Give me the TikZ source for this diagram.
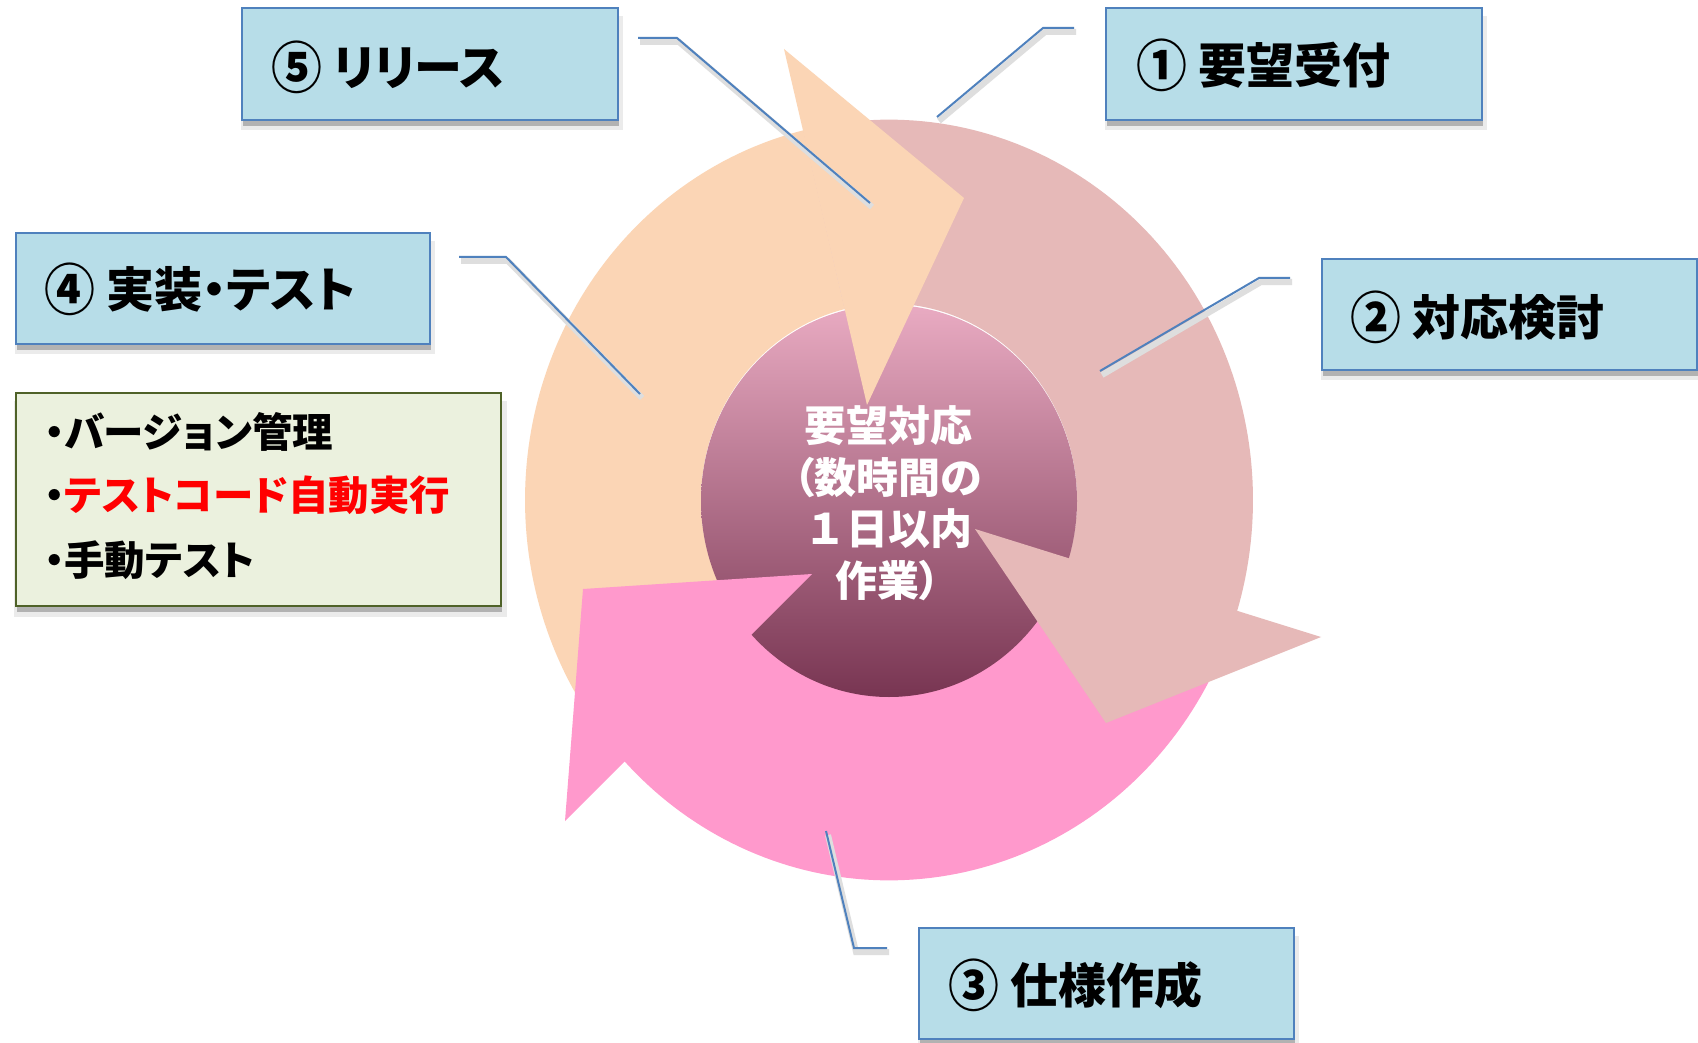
\documentclass[tikz,border=0pt]{standalone}
\usepackage{fontspec}
\newfontfamily\jp{Noto Sans CJK JP}[RawFeature=+palt]
\newfontfamily\jpf{Noto Sans CJK JP}
\usetikzlibrary{shadows}
\definecolor{peach}{HTML}{FBD5B5}
\definecolor{dusty}{HTML}{E6B9B8}
\definecolor{hotpink}{HTML}{FF99CC}
\definecolor{boxblue}{HTML}{B7DDE8}
\definecolor{edgeblue}{HTML}{4F81BD}
\definecolor{boxgreen}{HTML}{EBF1DE}
\definecolor{edgegreen}{HTML}{4F6228}
\definecolor{ctop}{HTML}{E9ABC2}
\definecolor{cmid}{HTML}{BF7690}
\definecolor{cbot}{HTML}{783552}
\newcommand\circnum[1]{\raisebox{-3pt}{\scalebox{1.06}[1.16]{#1}}}
\newcommand\hw[1]{{\jp #1}}
\begin{document}
\begin{tikzpicture}[x=1pt,y=-1pt,
  boxshade/.style={general shadow={fill=black!8, shadow xshift=2pt, shadow yshift=-9pt, shadow scale=1.015},
                   general shadow={fill=black!30, shadow xshift=1pt, shadow yshift=-6pt}},
  lbox/.style={boxshade, draw=edgeblue, line width=2pt, fill=boxblue, anchor=north west, inner sep=0pt},
  gbox/.style={boxshade, draw=edgegreen, line width=2pt, fill=boxgreen, anchor=north west, inner sep=0pt},
  lbl/.style={font={\jp\bfseries\fontsize{48}{56}\selectfont}, inner sep=0pt, anchor=west, text=black},
  gtxt/.style={font={\jp\bfseries\fontsize{40.5}{50}\selectfont}, inner sep=0pt, anchor=west, text=black},
  ctxt/.style={font={\jpf\bfseries\fontsize{42}{51.5}\selectfont}, inner sep=0pt, text=white, align=center},
  conn/.style={draw=edgeblue, line width=2pt},
  connshadow/.style={draw=black!13, line width=6pt, transform canvas={xshift=2pt, yshift=-4pt}}
]
\useasboundingbox[fill=white] (0,0) rectangle (1698,1043);

% ring bodies
\begin{scope}[shift={(889,500)}, yscale=-1.045]
  \fill[peach] plot[domain=223:103.6, samples=90] (\x:364) -- plot[domain=103.6:223, samples=90] (\x:188) -- cycle;
  \fill[dusty] plot[domain=103.6:-17.4, samples=90] (\x:364) -- plot[domain=-17.4:103.6, samples=90] (\x:188) -- cycle;
  \fill[hotpink] plot[domain=-17.4:-137, samples=90] (\x:364) -- plot[domain=-137:-17.4, samples=90] (\x:188) -- cycle;
\end{scope}

% centre disc
\shade[top color=ctop, middle color=cmid, bottom color=cbot] (889,501) ellipse [x radius=188pt, y radius=196pt];

% arrow heads
\fill[peach] (784,49) -- (964,198) -- (867,405) -- cycle;
\fill[dusty] (1321,637) -- (1106,723) -- (975,529) -- cycle;
\fill[hotpink] (565,821) -- (583,589) -- (812,574) -- cycle;

% centre text
\node[ctxt] (ct) at (888,503) {要望対応\\\hw{（}数時間の\\１日以内\\作業\hw{）}};

% boxes
\node[lbox, minimum width=376pt, minimum height=112pt] (b1) at (1105,7) {};
\node[lbox, minimum width=375pt, minimum height=111pt] (b2) at (1321,258) {};
\node[lbox, minimum width=375pt, minimum height=111pt] (b3) at (918,927) {};
\node[lbox, minimum width=414pt, minimum height=111pt] (b4) at (15,232) {};
\node[lbox, minimum width=376pt, minimum height=112pt] (b5) at (241,7) {};
\node[gbox, minimum width=485pt, minimum height=213pt] (g) at (15,392) {};

\node[lbl] (t1) at (1136,65) {\circnum{①} 要望受付};
\node[lbl] (t2) at (1350,317) {\circnum{②} 対応検討};
\node[lbl] (t3) at (948,985) {\circnum{③} 仕様作成};
\node[lbl] (t4) at (44,289) {\circnum{④} 実装・テスト};
\node[lbl] (t5) at (271,67) {\circnum{⑤} リリース};

\node[gtxt] (g1) at (44,432) {・バージョン管理};
\node[gtxt] (g2) at (44,495) {・\textcolor{red}{テストコード自動実行}};
\node[gtxt] (g3) at (44,560) {・手動テスト};

% connectors
\coordinate (c1a) at (1074,28); \coordinate (c1b) at (1043,28); \coordinate (c1c) at (937,117);
\coordinate (c2a) at (1290,278); \coordinate (c2b) at (1259,278); \coordinate (c2c) at (1100,371);
\coordinate (c3a) at (887,948); \coordinate (c3b) at (854,948); \coordinate (c3c) at (826,831);
\coordinate (c4a) at (459,257); \coordinate (c4b) at (506,257); \coordinate (c4c) at (640,394);
\coordinate (c5a) at (638,38); \coordinate (c5b) at (677,38); \coordinate (c5c) at (870,203);
\foreach \c in {c1,c2,c3,c4,c5}{
  \draw[connshadow] (\c a) -- (\c b) -- (\c c);
}
\foreach \c in {c1,c2,c3,c4,c5}{
  \draw[conn] (\c a) -- (\c b) -- (\c c);
}
\end{tikzpicture}
\end{document}
